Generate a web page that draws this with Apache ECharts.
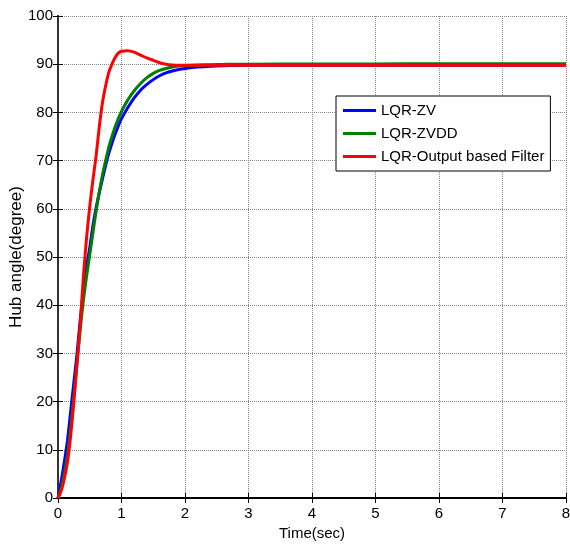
<!DOCTYPE html>
<html>
<head>
<meta charset="utf-8">
<script src="https://cdn.jsdelivr.net/npm/echarts@6/dist/echarts.min.js"></script>
<style>
html,body{margin:0;padding:0;background:#fff;}
#c{width:570px;height:548px;}
</style>
</head>
<body>
<div id="c"></div>
<script>
var timeSec = [0,0.05,0.1,0.15,0.2,0.25,0.3,0.35,0.4,0.45,0.5,0.55,0.6,0.65,0.7,0.75,0.8,0.85,0.9,0.95,1.0,
  1.1,1.2,1.3,1.4,1.5,1.6,1.7,1.8,1.9,2.0,2.2,2.4,2.6,2.8,3.0,4,5,6,7,8];
var lqrZV = [0,3.5,7.5,12,18,24,30,37,43,48,52,56.5,60.2,63.3,66.2,69,71.5,73.6,75.5,77.2,78.7,
  81,83,84.6,85.8,86.8,87.6,88.2,88.6,88.9,89.1,89.4,89.6,89.7,89.75,89.8,89.8,89.8,89.8,89.8,89.8];
var lqrZVDD = [0,2,5,9,14.5,21,28,35,41,46,50.5,55,59.5,63.5,67,70,72.8,75,77,78.7,80.2,
  82.6,84.5,86,87.2,88.1,88.7,89.1,89.4,89.6,89.75,89.85,89.9,89.95,90,90,90.05,90.05,90.1,90.1,90.1];
var lqrOBF = [0,1.5,4,7.5,13,20,28,36,46,54,60.5,66,71,77,82,85.5,88.3,90,91.4,92.3,92.7,
  92.8,92.5,91.9,91.3,90.8,90.3,90.0,89.85,89.8,89.8,89.8,89.8,89.8,89.8,89.8,89.8,89.8,89.8,89.8,89.8];
var seriesNames = ['LQR-ZV','LQR-ZVDD','LQR-Output based Filter'];
var seriesColors = ['#0000ff','#008000','#ff0000'];
var xTicks = [0,1,2,3,4,5,6,7,8];
var yTicks = [0,10,20,30,40,50,60,70,80,90,100];

function pairs(v){ return timeSec.map(function(t,i){ return [t, v[i]]; }); }

var font = 'Liberation Sans, Arial, sans-serif';
var chart = echarts.init(document.getElementById('c'), null, {renderer:'canvas'});
var tickStyle = {show:true, inside:true, length:5, lineStyle:{color:'#000', width:1}};
chart.setOption({
  animation:false,
  backgroundColor:'#fff',
  grid:{left:58, right:4, top:16, bottom:50, containLabel:false, outerBoundsMode:'none'},
  legend:{
    show:true, orient:'vertical', left:336, top:96,
    data:seriesNames, icon:'rect', itemWidth:33, itemHeight:3, itemGap:8,
    padding:[7,6,7,7], borderColor:'#000', borderWidth:1, backgroundColor:'#fff',
    textStyle:{fontFamily:font, fontSize:15, color:'#000', padding:[0,0,0,0]},
    selectedMode:false
  },
  xAxis:[{
    type:'value', min:0, max:8, interval:1, position:'bottom',
    name:'Time(sec)', nameLocation:'middle', nameGap:28, nameMoveOverlap:false,
    nameTextStyle:{fontFamily:font, fontSize:15, color:'#000'},
    axisLine:{show:true, onZero:false, lineStyle:{color:'#000', width:2}},
    axisTick:tickStyle,
    axisLabel:{fontFamily:font, fontSize:15, color:'#000', margin:8,
      formatter:function(v){ return xTicks.indexOf(v)>=0 ? String(v) : ''; }},
    splitLine:{show:true, lineStyle:{color:'#888', type:'dotted', width:1}}
  },{
    type:'value', min:0, max:8, interval:1, position:'top',
    axisLine:{show:true, lineStyle:{color:'#000', width:2}},
    axisTick:tickStyle, axisLabel:{show:false}, splitLine:{show:false}
  }],
  yAxis:[{
    type:'value', min:0, max:100, interval:10, position:'left',
    name:'Hub angle(degree)', nameLocation:'middle', nameGap:33, nameMoveOverlap:false,
    nameTextStyle:{fontFamily:font, fontSize:17, color:'#000'},
    axisLine:{show:true, onZero:false, lineStyle:{color:'#000', width:2}},
    axisTick:tickStyle,
    axisLabel:{fontFamily:font, fontSize:15, color:'#000', margin:5,
      formatter:function(v){ return yTicks.indexOf(v)>=0 ? String(v) : ''; }},
    splitLine:{show:true, lineStyle:{color:'#888', type:'dotted', width:1}}
  },{
    type:'value', min:0, max:100, interval:10, position:'right',
    axisLine:{show:true, lineStyle:{color:'#333', width:2}},
    axisTick:tickStyle, axisLabel:{show:false}, splitLine:{show:false}
  }],
  series:[lqrZV, lqrZVDD, lqrOBF].map(function(v,i){
    return {
      name:seriesNames[i], type:'line', data:pairs(v), showSymbol:false, symbol:'none',
      smooth:0.2, lineStyle:{color:seriesColors[i], width:3}, itemStyle:{color:seriesColors[i]},
      z:2+i
    };
  })
});
</script>
</body>
</html>
